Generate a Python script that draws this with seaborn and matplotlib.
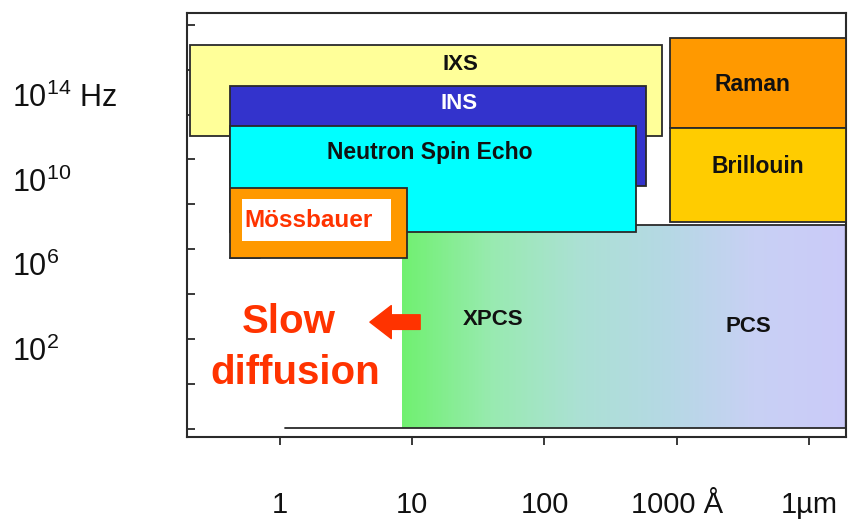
import numpy as np
import matplotlib
matplotlib.use("Agg")
import matplotlib.pyplot as plt
from matplotlib.colors import LinearSegmentedColormap
from matplotlib.ticker import FixedLocator, NullLocator, NullFormatter
import seaborn as sns

sns.set_theme(style="white")
plt.rcParams['font.family'] = ['Liberation Sans', 'DejaVu Sans']
plt.rcParams['mathtext.fontset'] = 'custom'
plt.rcParams['mathtext.rm'] = 'Liberation Sans'

# ---- data (log10 of length in Å, log10 of frequency in Hz) ----
techniques = ["IXS", "INS", "Neutron Spin Echo", "Mössbauer", "Raman", "Brillouin"]
box_x0 = [-0.68, -0.378, -0.378, -0.378, 2.949, 2.949]
box_x1 = [2.888, 2.767, 2.692, 0.960, 4.28, 4.28]
box_y0 = [12.05, 9.69, 7.52, 6.29, 12.42, 7.99]
box_y1 = [16.34, 14.41, 12.52, 9.59, 16.67, 12.42]
box_colors = ["#FFFF99", "#3333CC", "#00FFFF", "#FF9900", "#FF9900", "#FFCC00"]
label_x = [1.361, 1.353, 1.134, 0.219, 3.569, 3.614]
label_y = [15.42, 13.58, 11.25, 8.08, 14.5, 10.63]
label_colors = ["#111111", "#FFFFFF", "#111111", "#FF3300", "#111111", "#111111"]
label_sizes = [16, 16, 16.5, 17.5, 16.5, 16.5]

# white label panel inside the Mössbauer box
panel_x = [-0.287, 0.839]
panel_y = [7.09, 9.08]

# photon correlation spectroscopy region (XPCS -> PCS)
pcs_x = [0.922, 4.28]
pcs_y = [-1.73, 7.85]
pcs_labels = ["XPCS", "PCS"]
pcs_label_x = [1.61, 3.539]
pcs_label_y = [3.37, 3.04]
gradient_colors = ["#70F070", "#98EAB0", "#ABE0D4", "#B5D8E4", "#C8D0F4", "#CACAF8"]

bottom_line_x0 = 0.038

# slow diffusion annotation
arrow_tail = (1.06, 3.27)
arrow_tip = (0.68, 3.27)
slow_text = [("Slow", 0.068, 3.27), ("diffusion", 0.113, 0.87)]

x_limits = [-0.703, 4.28]
y_limits = [-2.15, 17.85]
x_ticks = [0, 1, 2, 3, 4]
x_ticklabels = ["1", "10", "100", "1000 Å", "1µm"]
y_ticks = [2, 6, 10, 14]
y_ticklabels = [r"$10^{2}$", r"$10^{6}$", r"$10^{10}$", r"$10^{14}$ Hz"]
y_minor = [-1.77, 0.35, 2.47, 4.58, 6.70, 8.82, 10.94, 13.05, 15.17, 17.28]

E = lambda v: 10 ** np.asarray(v, dtype=float)
edge = "#2a2a2a"

fig = plt.figure(figsize=(8.61, 5.22), dpi=100)
ax = fig.add_axes([187 / 861, (522 - 437) / 522, (846 - 187) / 861, (437 - 13) / 522])
ax.set_xscale("log")
ax.set_yscale("log")

# gradient region
gx = np.logspace(pcs_x[0], pcs_x[1], 300)
gy = E(pcs_y)
cmap = LinearSegmentedColormap.from_list("pcs", gradient_colors)
C = np.linspace(0, 1, len(gx) - 1)[None, :]
ax.pcolormesh(gx, gy, C, cmap=cmap, shading="flat", zorder=1, rasterized=True)
ax.plot(E([pcs_x[1], pcs_x[1]]), E(pcs_y), color=edge, lw=1.6, zorder=2)
ax.plot(E(pcs_x), E([pcs_y[1], pcs_y[1]]), color=edge, lw=1.3, zorder=2)
ax.plot(E([bottom_line_x0, pcs_x[1]]), E([pcs_y[0], pcs_y[0]]), color=edge, lw=1.3, zorder=2)
ax.plot(E([box_x0[3], -0.15]), E([box_y0[3], box_y0[3]]), color=edge, lw=1.3, zorder=2)

# technique boxes
for i, name in enumerate(techniques):
    x0, x1 = 10 ** box_x0[i], 10 ** box_x1[i]
    y0, y1 = 10 ** box_y0[i], 10 ** box_y1[i]
    ax.bar(x0, y1 - y0, width=x1 - x0, bottom=y0, align="edge",
           color=box_colors[i], edgecolor=edge, linewidth=1.3, zorder=3 + i * 0.1)

# white panel
px0, px1 = E(panel_x)
py0, py1 = E(panel_y)
ax.bar(px0, py1 - py0, width=px1 - px0, bottom=py0, align="edge",
       color="white", edgecolor="none", linewidth=0, zorder=4)

for i, name in enumerate(techniques):
    ax.text(10 ** label_x[i], 10 ** label_y[i], name, ha="center", va="center",
            fontsize=label_sizes[i], fontweight="bold", color=label_colors[i], zorder=5)

for name, lx, ly in zip(pcs_labels, pcs_label_x, pcs_label_y):
    ax.text(10 ** lx, 10 ** ly, name, ha="center", va="center", fontsize=16,
            fontweight="bold", color="#111111", zorder=5)

for txt, tx, ty in slow_text:
    ax.text(10 ** tx, 10 ** ty, txt, ha="center", va="center", fontsize=29,
            fontweight="bold", color="#FF3300", zorder=5)

ax.annotate("", xy=(10 ** arrow_tip[0], 10 ** arrow_tip[1]),
            xytext=(10 ** arrow_tail[0], 10 ** arrow_tail[1]),
            arrowprops=dict(arrowstyle="simple,head_length=1.1,head_width=1.7,tail_width=0.75",
                            color="#FF3300", mutation_scale=14, shrinkA=0, shrinkB=0),
            zorder=5)

ax.set_xlim(E(x_limits))
ax.set_ylim(E(y_limits))

ax.xaxis.set_major_locator(FixedLocator(E(x_ticks)))
ax.xaxis.set_minor_locator(NullLocator())
ax.xaxis.set_minor_formatter(NullFormatter())
ax.set_xticklabels(x_ticklabels)
ax.yaxis.set_major_locator(FixedLocator(E(y_ticks)))
ax.yaxis.set_minor_locator(FixedLocator(E(y_minor)))
ax.yaxis.set_minor_formatter(NullFormatter())
ax.set_yticklabels(y_ticklabels)

ax.tick_params(axis="x", which="major", direction="out", length=6, width=1.3,
               color=edge, pad=33, labelsize=21, labelcolor="#111111", bottom=True)
ax.tick_params(axis="y", which="major", length=0, pad=126, labelsize=22,
               labelcolor="#111111", left=True)
ax.tick_params(axis="y", which="minor", direction="in", length=6, width=1.3,
               color=edge, left=True)
for lab in ax.get_yticklabels():
    lab.set_horizontalalignment("left")

for sp in ax.spines.values():
    sp.set_color(edge)
    sp.set_linewidth(1.5)
ax.grid(False)

fig.savefig("out.png", dpi=100)
